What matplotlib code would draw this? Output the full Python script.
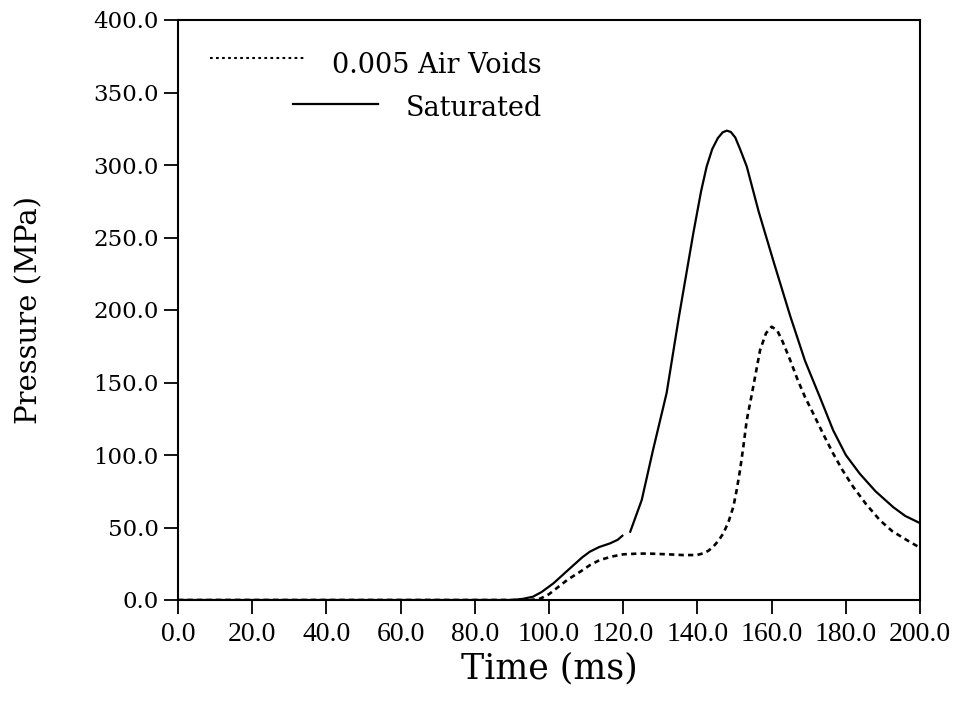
import numpy as np
import matplotlib
matplotlib.use("Agg")
import matplotlib.pyplot as plt
from matplotlib.lines import Line2D

# ---- data ----
sat_t = [0, 90, 93, 95.7, 98, 101.2, 104, 106.6, 109, 111, 113.5, 116.4, 118.5, 120,
         120.8, 121.8, 125, 128, 131.7, 135, 138.9, 141, 142.5, 144, 145.5, 146.8,
         147.9, 149, 150.2, 151.5, 153.3, 156.5, 160.4, 165, 169, 173, 176.6, 180,
         183.8, 188, 192.8, 196, 200]
sat_p = [0, 0, 0.8, 2.3, 5.5, 11.5, 18, 24, 29.5, 33.3, 36.5, 39, 41.5, 44.8,
         np.nan, 46.4, 69, 103, 142.7, 195, 253, 282, 299, 311, 318.5, 322.5,
         323.7, 322.8, 319, 311, 299, 268, 234.5, 196, 165, 140, 117, 100,
         87, 75, 64, 58, 53]

air_t = [0, 95, 97.7, 100, 102, 105, 108.4, 111, 113.7, 117, 120, 124, 127.2, 132,
         136.2, 139.8, 141.6, 143, 144.3, 145.7, 147, 148.4, 149.7, 150.6, 151.5,
         152.4, 153.3, 154.6, 156.9, 158.5, 160, 161.5, 163, 165, 167, 169, 171.2,
         174, 176.6, 179, 182, 185.5, 189.2, 192.5, 196.4, 200]
air_p = [0, 0, 1, 4, 8, 14, 19.5, 24, 27.6, 30, 31.5, 32, 32, 31.5,
         31, 31, 32.2, 34, 36.8, 41, 46, 54, 64.4, 76, 89.7,
         106, 124, 141, 172.4, 184, 188.5, 186, 178, 165.5, 152, 140, 128.7,
         114, 101, 90, 78, 66, 55, 47.5, 41.4, 36]

x_ticks = [0, 20, 40, 60, 80, 100, 120, 140, 160, 180, 200]
y_ticks = [0, 50, 100, 150, 200, 250, 300, 350, 400]
legend_labels = ["0.005 Air Voids", "Saturated"]

# ---- figure ----
fig = plt.figure(figsize=(9.56, 7.12), dpi=100)
ax = fig.add_axes([178/956, 112/712, 742/956, 580/712])

ax.plot(sat_t, sat_p, color="black", lw=1.6, solid_capstyle="butt", solid_joinstyle="round")
ax.plot(air_t, air_p, color="black", lw=1.9, linestyle=(0, (2.0, 1.6)))

ax.set_xlim(0, 200)
ax.set_ylim(0, 400)
ax.set_xticks(x_ticks)
ax.set_yticks(y_ticks)
ax.set_xticklabels([f"{v:.1f}" for v in x_ticks], fontfamily="Liberation Serif", fontsize=20)
ax.set_yticklabels([f"{v:.1f}" for v in y_ticks], fontfamily="DejaVu Serif", fontsize=16.5)
ax.tick_params(axis="both", direction="out", length=10, width=1.3, color="black")
ax.tick_params(axis="x", pad=6)
ax.tick_params(axis="y", pad=4)
for s in ax.spines.values():
    s.set_linewidth(1.5)

ax.set_xlabel("Time (ms)", fontfamily="DejaVu Serif", fontsize=25, labelpad=3)
ax.set_ylabel("Pressure (MPa)", fontfamily="DejaVu Serif", fontsize=21, labelpad=36)

# ---- legend (manual) ----
ax.add_line(Line2D([0.043, 0.173], [0.934, 0.934], transform=ax.transAxes,
                   color="black", lw=1.5, linestyle=(0, (1.3, 1.6))))
ax.add_line(Line2D([0.155, 0.27], [0.855, 0.855], transform=ax.transAxes,
                   color="black", lw=1.6))
ax.text(0.49, 0.922, legend_labels[0], transform=ax.transAxes, ha="right", va="center",
        fontfamily="DejaVu Serif", fontsize=19.5)
ax.text(0.49, 0.847, legend_labels[1], transform=ax.transAxes, ha="right", va="center",
        fontfamily="DejaVu Serif", fontsize=19.5)

fig.savefig("out.png", dpi=100)
